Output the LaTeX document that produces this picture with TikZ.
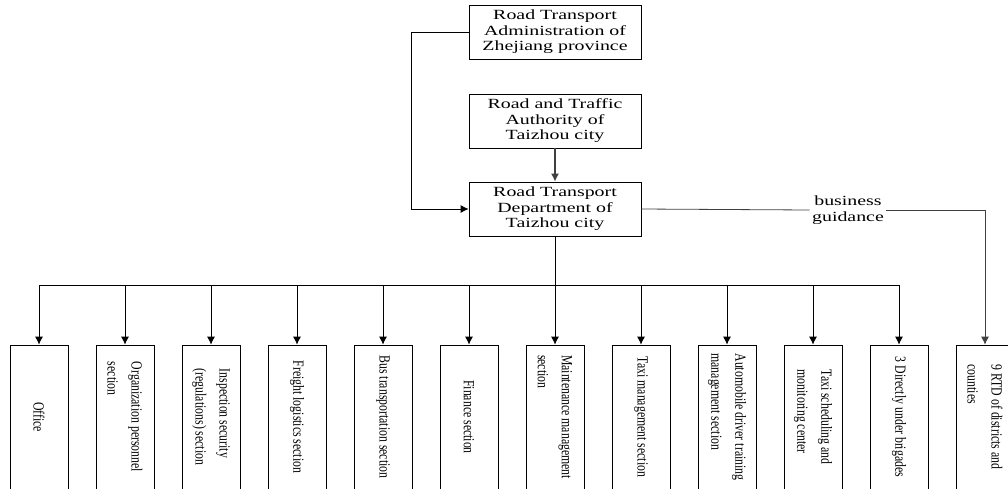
\documentclass[tikz,border=0pt]{standalone}
\usepackage{fontspec}
\setmainfont{Liberation Serif}
\newfontfamily\wideserif[FakeStretch=1.42]{Liberation Serif}
\newfontfamily\narrowserif[FakeStretch=0.76]{Liberation Serif}
\usetikzlibrary{arrows.meta}

\begin{document}
\begin{tikzpicture}[
  x=1pt, y=-1pt,
  line width=0.8pt,
  every node/.style={inner sep=2pt},
  topbox/.style={draw, minimum width=172pt, minimum height=54pt, align=center,
    font=\wideserif\fontsize{14}{15.5}\selectfont},
  secbox/.style={draw, rotate=-90, minimum width=144pt, minimum height=58pt, align=left,
    font=\narrowserif\fontsize{15.5}{24}\selectfont},
  arr/.style={-{Latex[length=8pt,width=8pt]}}
  ]
  \useasboundingbox (0,0) rectangle (1008,488);

  \node[topbox] (prov) at (555,32) {Road Transport\\Administration of\\Zhejiang province};
  \node[topbox] (auth) at (555,121) {Road and Traffic\\Authority of\\Taizhou city};
  \node[topbox] (dept) at (555,209) {Road Transport\\Department of\\Taizhou city};

  \draw[arr] (prov.west) -- ++(-57,0) |- (dept.west);
  \draw[arr, black!75, line width=1.2pt] (auth.south) -- (dept.north);

  \foreach \i/\nm/\txt in {
      0/office/{Office},
      1/orgsec/{Organization personnel\\section},
      2/inspsec/{Inspection security\\(regulations) section},
      3/freight/{Freight logistics section},
      4/bussec/{Bus transportation section},
      5/finance/{Finance section},
      6/maint/{Maintenance management\\section},
      7/taximgmt/{Taxi management section},
      8/autotrain/{Automobile driver training\\management section},
      9/taxisched/{Taxi scheduling and\\monitoring center},
      10/brigades/{3 Directly under brigades},
      11/rtd/{9 RTD of districts and\\counties}}
    \node[secbox] (\nm) at (39+86*\i,417) {\txt};

  \draw (dept.south) -- ++(0,49) coordinate (hub);
  \draw (hub -| office.west) -- (hub -| brigades.west);
  \foreach \nm in {office,orgsec,inspsec,freight,bussec,finance,maint,taximgmt,autotrain,taxisched,brigades}
    \draw[arr] (hub -| \nm.west) -- (\nm.west);

  \node[align=center, font=\wideserif\fontsize{14}{15.5}\selectfont] (guide) at (848,210) {business\\guidance};
  \draw[black!75] (dept.east) -- (guide.west);
  \draw[arr, black!75] (guide.east) -- (guide.east -| rtd.west) -- (rtd.west);
\end{tikzpicture}
\end{document}
